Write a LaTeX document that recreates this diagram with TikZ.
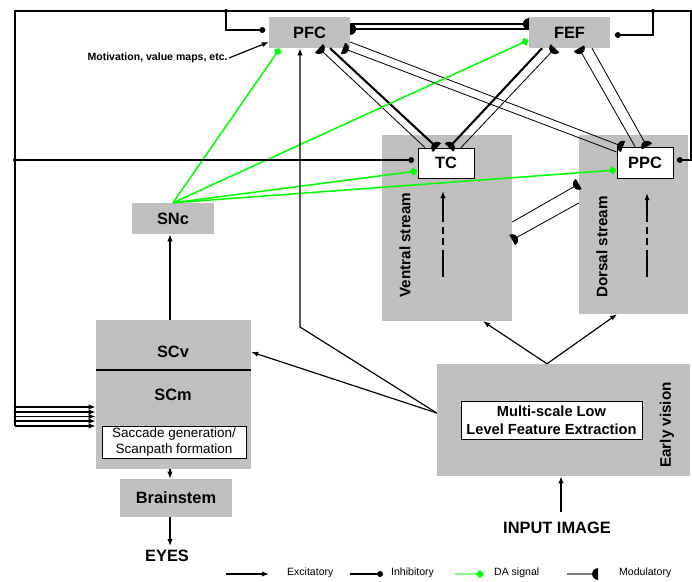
\documentclass[tikz,border=0pt]{standalone}
\usepackage{fontspec}
\setmainfont{Liberation Sans}
\usetikzlibrary{arrows.meta}

\definecolor{areagray}{RGB}{192,192,192}
\definecolor{dagreen}{RGB}{0,255,0}
\definecolor{leggreen}{RGB}{128,255,128}

% half disc tip, flat side on the target
\pgfdeclarearrow{
  name = HalfDisc,
  parameters = {\the\pgfarrowlength},
  setup code = {
    \pgfarrowssettipend{0pt}
    \pgfarrowssetlineend{-.5\pgfarrowlength}
    \pgfarrowssetbackend{-\pgfarrowlength}
    \pgfarrowshullpoint{0pt}{\pgfarrowlength}
    \pgfarrowshullpoint{0pt}{-\pgfarrowlength}
    \pgfarrowshullpoint{-\pgfarrowlength}{0pt}
    \pgfarrowssavethe\pgfarrowlength
  },
  drawing code = {
    \pgfpathmoveto{\pgfqpoint{0pt}{\pgfarrowlength}}
    \pgfpatharc{90}{270}{\pgfarrowlength}
    \pgfpathclose
    \pgfusepathqfill
  },
  defaults = {length = 5pt}
}

\begin{document}
\begin{tikzpicture}[x=0.03cm, y=-0.03cm,
  area/.style={fill=areagray, inner sep=0pt, font=\fontsize{14}{16}\selectfont\bfseries},
  unit/.style={draw, fill=white, line width=0.7pt, inner sep=0pt, font=\fontsize{14}{16}\selectfont\bfseries},
  bigtext/.style={font=\fontsize{14}{16}\selectfont\bfseries},
  sidelbl/.style={rotate=90, font=\fontsize{13}{15}\selectfont\bfseries},
  exc/.style={line width=1pt, -{Latex[length=6pt,width=4.5pt]}},
  inh/.style={line width=1.3pt, -{Circle[length=5pt]}},
  da/.style={dagreen, line width=1.3pt, -{Diamond[length=7pt,width=7pt]}},
  modthin/.style={line width=0.7pt, -{HalfDisc}},
  modthick/.style={line width=1.8pt, -{HalfDisc}},
  flow/.style={line width=1pt, dash pattern=on 23pt off 4pt on 6pt off 4pt on 6pt off 4pt on 60pt, -{Latex[length=6pt,width=4.5pt]}},
  legtext/.style={anchor=west, font=\fontsize{9}{11}\selectfont}]
    \useasboundingbox (0,0) rectangle (692,581);

    % streams
    \node[area, minimum width=3.9cm, minimum height=5.58cm] (ventral) at (447,228) {};
    \node[area, minimum width=3.27cm, minimum height=5.37cm] (dorsal) at (633.5,224.5) {};
    \node[sidelbl] (ventrallbl) at (405,245) {Ventral stream};
    \node[sidelbl] (dorsallbl) at (602,247) {Dorsal stream};

    \node[area, minimum width=2.43cm, minimum height=0.93cm] (pfc) at (309.5,32.5) {PFC};
    \node[area, minimum width=2.43cm, minimum height=0.93cm] (fef) at (569.5,32.5) {FEF};
    \node[unit, minimum width=1.68cm, minimum height=0.9cm] (tc) at (446,163) {TC};
    \node[unit, minimum width=1.68cm, minimum height=0.93cm] (ppc) at (645,162.5) {PPC};
    \node[area, minimum width=2.46cm, minimum height=0.93cm] (snc) at (173,218.5) {SNc};
    \node[anchor=east, inner sep=1pt, font=\fontsize{9}{11}\selectfont\bfseries] (motiv) at (229,58) {Motivation, value maps, etc.};

    % superior colliculus
    \node[area, minimum width=4.65cm, minimum height=4.47cm] (sc) at (173.5,394.5) {};
    \node[bigtext] (scv) at (173,352) {SCv};
    \node[bigtext] (scm) at (173,395) {SCm};
    \draw[line width=1.3pt] (sc.west |- 0,370) -- (sc.east |- 0,370);
    \node[unit, minimum width=4.32cm, minimum height=0.96cm, align=center, font=\fontsize{11.5}{13.5}\selectfont] (sacc) at (174,442) {Saccade generation/\\Scanpath formation};
    \node[area, minimum width=3.36cm, minimum height=1.14cm] (brain) at (176,498) {Brainstem};
    \node[bigtext] (eyes) at (167,556) {EYES};

    % early vision
    \node[area, minimum width=7.59cm, minimum height=3.36cm] (early) at (563.5,420) {};
    \node[sidelbl] (earlylbl) at (667,425) {Early vision};
    \node[unit, minimum width=5.43cm, minimum height=1.14cm, align=center, font=\fontsize{12.5}{15}\selectfont\bfseries] (mlf) at (551.5,420) {Multi-scale Low\\Level Feature Extraction};
    \node[bigtext] (input) at (557,528) {INPUT IMAGE};

    % modulatory pairs
    \draw[modthick] (pfc.east |- 0,24) -- (fef.west |- 0,24);
    \draw[modthick] (fef.west |- 0,29) -- (pfc.east |- 0,29);
    \draw[modthick] (pfc.south -| 330,0) -- (tc.north -| 437,0);
    \draw[modthin] (tc.north -| 425,0) -- (pfc.south -| 319,0);
    \draw[modthick] (fef.south -| 542,0) -- (tc.north -| 449,0);
    \draw[modthin] (tc.north -| 461,0) -- (fef.south -| 555,0);
    \draw[modthin] (fef.south -| 592,0) -- (ppc.north -| 647,0);
    \draw[modthin] (ppc.north -| 635,0) -- (fef.south -| 579,0);
    \draw[modthin] (pfc.east |- 0,42) -- (ppc.north -| 623,0);
    \draw[modthin] (ppc.west |- 0,152) -- (pfc.south -| 343,0);
    \draw[modthin] (ventral.east |- 0,222) -- (dorsal.west |- 0,184);
    \draw[modthin] (dorsal.west |- 0,203) -- (ventral.east |- 0,240);

    % DA signal from SNc
    \draw[da] (snc.north) -- (pfc.south -| 280,0);
    \draw[da] (snc.north) -- (fef.west |- 0,40);
    \draw[da] (snc.north) -- (tc.west |- 0,171);
    \draw[da] (snc.north) -- (ppc.west |- 0,170);

    % outputs to the colliculus
    \coordinate (topleft) at (15,11);
    \coordinate (topright) at (691,11);
    \coordinate (pfctap) at (226,11);
    \coordinate (feftap) at (653,11);
    \coordinate (tctap) at (15,160);
    \coordinate (busend) at (15,426);
    \draw[inh, shorten >=3pt] (pfctap) |- (pfc.west |- 0,30);
    \draw[inh, shorten >=4pt] (feftap) |- (fef.east |- 0,35);
    \draw[inh, shorten >=3pt] (busend) -- (topleft) -- (topright) |- (ppc.east |- 0,160);
    \draw[inh, shorten >=3pt] (tctap) -- (tc.west |- 0,160);
    \foreach \y in {407,412,416.5,421,426}
        \draw[exc] (15,\y) -- (sc.west |- 0,\y);
    \foreach \p in {pfctap,feftap,tctap}
        \fill (\p) circle[radius=2];
    \foreach \y in {407,412,416.5,421}
        \fill (15,\y) circle[radius=1.5];

    % feedforward
    \coordinate (pfcbend) at (300,327);
    \draw[exc] (early.west |- 0,413) -- (sc.east |- 0,352);
    \draw[exc] (early.west |- 0,413) -- (pfcbend) -- (pfc.south -| pfcbend);
    \draw[exc] (early.north -| 547,0) -- (ventral.south -| 483,0);
    \draw[exc] (early.north -| 547,0) -- (dorsal.south -| 617,0);
    \draw[exc, shorten <=5pt] (input.north -| 561,0) -- (early.south -| 561,0);
    \draw[exc] (motiv.east) -- (pfc.west |- 0,42);
    \draw[exc] (sc.north -| 170,0) -- (snc.south -| 170,0);
    \draw[exc] (sc.south -| 170,0) -- (brain.north -| 170,0);
    \draw[exc] (brain.south -| 170,0) -- (eyes.north -| 170,0);

    % inside the streams
    \coordinate (vlow) at (443,277);
    \coordinate (vhigh) at (443,191);
    \coordinate (dlow) at (647,277);
    \coordinate (dhigh) at (647,193);
    \draw[flow] (vlow) -- (vhigh);
    \draw[flow] (dlow) -- (dhigh);

    % legend
    \tikzset{daleg/.style={leggreen, line width=1.3pt, -{Diamond[length=7pt,width=7pt,color=dagreen]}},
             modleg/.style={gray, line width=1pt, -{HalfDisc[color=black]}}}
    \foreach \a/\b/\t/\s/\lbl in {226/269/283/exc/Excitatory, 350/383/387/inh/Inhibitory, 455/484/490/daleg/DA signal, 567/598/615/modleg/Modulatory} {
        \coordinate (leg-\s) at (\a,574);
        \node[legtext] (legtxt-\s) at (\t,573) {\lbl};
        \draw[\s] (leg-\s) -- (\b,574);
    }
\end{tikzpicture}
\end{document}
